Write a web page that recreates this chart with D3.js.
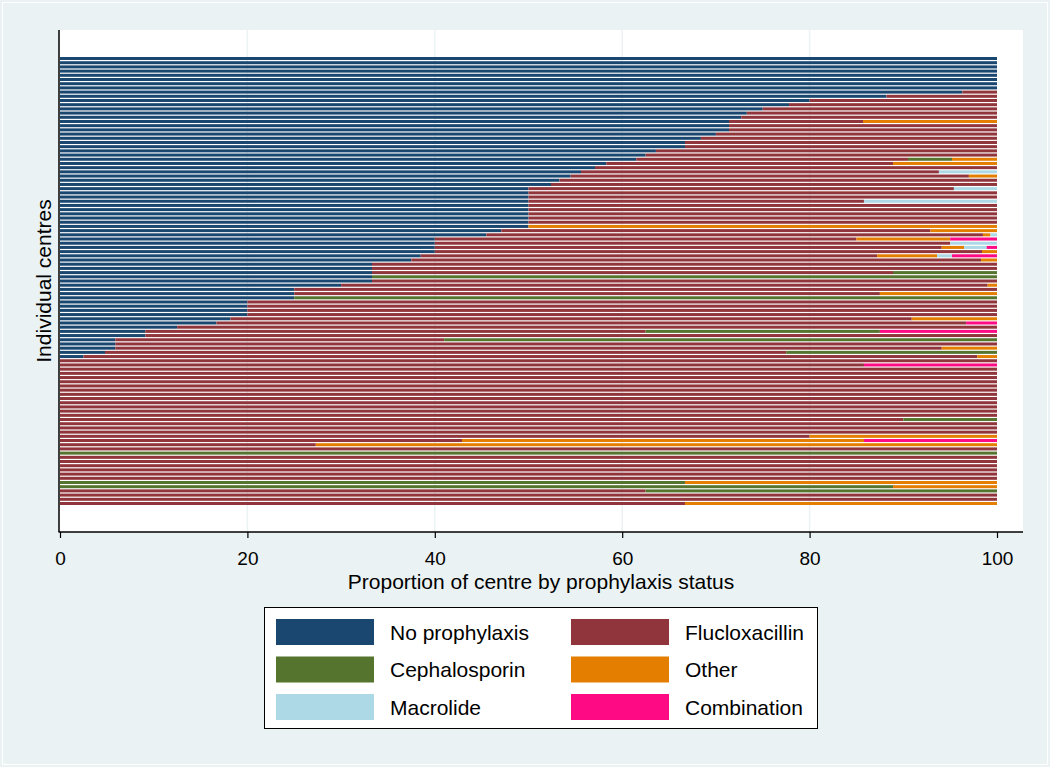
<!DOCTYPE html>
<html><head><meta charset="utf-8">
<script src="https://cdn.jsdelivr.net/npm/d3@7"></script>
<style>body{margin:0;background:#eaf2f3}svg{display:block;font-family:"Liberation Sans",Arial,sans-serif}</style>
</head><body><svg id="c" width="1050" height="767"></svg>
<script>
const seriesNames = ["No prophylaxis","Flucloxacillin","Cephalosporin","Other","Macrolide","Combination"];
const seriesColors = ["#1a476f","#90353b","#55752f","#e37e00","#add8e6","#ff0a85"];
const xTicks = [0,20,40,60,80,100];
const centres = d3.range(1,108);
const noProph = [
100,100,100,100,100,100,100,100,96.3,88.2,
80,77.8,75,73.3,72.7,71.4,71.4,71.4,70,68.4,
66.7,66.7,63.6,62.5,61.5,58.3,57.1,55.6,54.5,53.3,
52.4,50,50,50,50,50,50,50,50,50,
50,47.1,45.5,40,40,40,40,38.5,37.5,33.3,
33.3,33.3,33.3,33.3,30,25,25,25,20,20,
20,20,18.2,16.7,12.5,9.1,9.1,5.9,5.9,5.9,
4.8,2.5,0,0,0,0,0,0,0,0,
0,0,0,0,0,0,0,0,0,0,
0,0,0,0,0,0,0,0,0,0,
0,0,0,0,0,0,0];
const fluclox = [
0,0,0,0,0,0,0,0,3.7,11.8,
20,22.2,25,26.7,27.3,14.3,28.6,28.6,30,31.6,
33.3,33.3,36.4,37.5,29,30.6,42.9,38.2,42.5,46.7,
47.6,45.4,50,50,35.8,50,50,50,50,50,
0,45.8,53,45,55,54.1,58.4,48.7,60.8,66.7,
66.7,55.6,0,66.7,69,75,62.5,0,80,80,
80,80,72.7,80,87.5,53.4,90.9,35.1,94.1,88.2,
72.7,95.4,100,85.8,100,100,100,100,100,100,
100,100,100,100,100,100,90,100,100,100,
80,42.9,27.3,100,0,100,100,100,100,100,
100,0,0,62.5,100,100,66.7];
const cephalo = [
0,0,0,0,0,0,0,0,0,0,
0,0,0,0,0,0,0,0,0,0,
0,0,0,0,4.7,0,0,0,0,0,
0,0,0,0,0,0,0,0,0,0,
0,0,0,0,0,0,0,0,0,0,
0,11.1,66.7,0,0,0,0,75,0,0,
0,0,0,0,0,25,0,59,0,0,
22.5,0,0,0,0,0,0,0,0,0,
0,0,0,0,0,0,10,0,0,0,
0,0,0,0,100,0,0,0,0,0,
0,66.7,88.9,37.5,0,0,0];
const other = [
0,0,0,0,0,0,0,0,0,0,
0,0,0,0,0,14.3,0,0,0,0,
0,0,0,0,4.8,11.1,0,0,3,0,
0,0,0,0,0,0,0,0,0,0,
50,7.1,0.8,10,0,2.4,1.6,6.4,1.7,0,
0,0,0,0,1,0,12.5,0,0,0,
0,0,9.1,0,0,0,0,0,0,5.9,
0,2.1,0,0,0,0,0,0,0,0,
0,0,0,0,0,0,0,0,0,0,
20,42.9,72.7,0,0,0,0,0,0,0,
0,33.3,11.1,0,0,0,33.3];
const macrolide = [
0,0,0,0,0,0,0,0,0,0,
0,0,0,0,0,0,0,0,0,0,
0,0,0,0,0,0,0,6.2,0,0,
0,4.6,0,0,14.2,0,0,0,0,0,
0,0,0.7,0,5,2.4,0,1.6,0,0,
0,0,0,0,0,0,0,0,0,0,
0,0,0,0,0,0,0,0,0,0,
0,0,0,0,0,0,0,0,0,0,
0,0,0,0,0,0,0,0,0,0,
0,0,0,0,0,0,0,0,0,0,
0,0,0,0,0,0,0];
const combination = [
0,0,0,0,0,0,0,0,0,0,
0,0,0,0,0,0,0,0,0,0,
0,0,0,0,0,0,0,0,0,0,
0,0,0,0,0,0,0,0,0,0,
0,0,0,5,0,1.1,0,4.8,0,0,
0,0,0,0,0,0,0,0,0,0,
0,0,0,3.3,0,12.5,0,0,0,0,
0,0,0,14.2,0,0,0,0,0,0,
0,0,0,0,0,0,0,0,0,0,
0,14.2,0,0,0,0,0,0,0,0,
0,0,0,0,0,0,0];

const seriesData = [noProph,fluclox,cephalo,other,macrolide,combination];
const table = centres.map((c,i)=>{const r={centre:c};seriesNames.forEach((k,j)=>r[k]=seriesData[j][i]);return r;});

const svg = d3.select("#c");
svg.append("rect").attr("x",0).attr("y",0).attr("width",1050).attr("height",767).attr("fill","#eaf2f3");
svg.append("rect").attr("x",2.5).attr("y",2.5).attr("width",1045).attr("height",762).attr("fill","none").attr("stroke","#ffffff").attr("stroke-width",1);

const L=59, R=1023, T=30, B=532;
const x = d3.scaleLinear().domain([0,100]).range([60,997]);
const y = d3.scaleBand().domain(centres).range([57,505]).paddingInner(0.28).paddingOuter(0);

svg.append("rect").attr("x",L).attr("y",T).attr("width",R-L).attr("height",B-T).attr("fill","#fff");
svg.append("g").selectAll("line").data(xTicks.filter(t=>t>0&&t<100)).join("line")
  .attr("x1",d=>x(d)).attr("x2",d=>x(d)).attr("y1",T).attr("y2",B)
  .attr("stroke","#eaf2f3").attr("stroke-width",1.5);

const stack = d3.stack().keys(seriesNames)(table);
const g = svg.append("g");
stack.forEach((s,j)=>{
  g.append("g").attr("fill",seriesColors[j]).selectAll("rect").data(s.filter(d=>d[1]-d[0]>0)).join("rect")
   .attr("x",d=>x(d[0])).attr("width",d=>x(d[1])-x(d[0]))
   .attr("y",d=>y(d.data.centre)).attr("height",y.bandwidth());
});

const xa = svg.append("g").attr("transform",`translate(0,${B})`)
  .call(d3.axisBottom(x).tickValues(xTicks).tickSize(6).tickPadding(0).tickFormat(d3.format("d")));
xa.select(".domain").remove();
xa.selectAll("line").attr("stroke","#000").attr("stroke-width",1.2);
xa.selectAll("text").attr("font-size",19).attr("fill","#000").attr("dy",null).attr("y",33)
  .attr("font-family","Liberation Sans, Arial, sans-serif");
svg.append("line").attr("x1",L-0.5).attr("x2",R).attr("y1",B).attr("y2",B).attr("stroke","#000").attr("stroke-width",1.5);
svg.append("line").attr("x1",L).attr("x2",L).attr("y1",T).attr("y2",B).attr("stroke","#000").attr("stroke-width",1.5);

svg.append("text").attr("x",541).attr("y",589).attr("text-anchor","middle").attr("font-size",21).text("Proportion of centre by prophylaxis status");
svg.append("text").attr("transform","translate(51,281) rotate(-90)").attr("text-anchor","middle").attr("font-size",21).text("Individual centres");

// legend
const lg = svg.append("g");
lg.append("rect").attr("x",264.5).attr("y",607.5).attr("width",553).attr("height",121).attr("fill","#fff").attr("stroke","#000").attr("stroke-width",1);
const legItems = seriesNames.map((n,i)=>({n, c:seriesColors[i], col:i%2, row:Math.floor(i/2)}));
const li = lg.selectAll("g.it").data(legItems).join("g").attr("class","it")
  .attr("transform",d=>`translate(${d.col?571:276},${619+d.row*37.5})`);
li.append("rect").attr("width",98).attr("height",26).attr("fill",d=>d.c);
li.append("text").attr("x",114).attr("y",13).attr("dy","0.36em").attr("font-size",21).text(d=>d.n);
</script></body></html>
